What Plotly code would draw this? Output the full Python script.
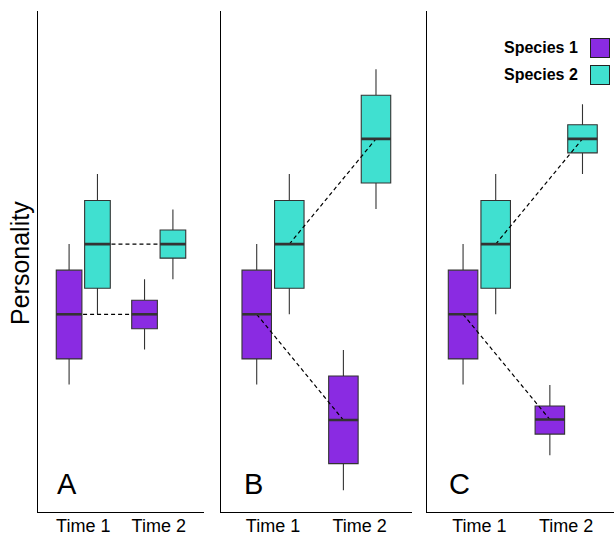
import plotly.graph_objects as go

W, H = 614, 535

# ---------------- data ----------------
panels = ["A", "B", "C"]
times = ["Time 1", "Time 2"]
species = ["Species 1", "Species 2"]

# per panel: [Time 1, Time 2]
sp1_lower = [[25.5, 32.5], [25.5, 4.4], [25.5, 11.4]]
sp1_q1 = [[30.6, 36.6], [30.6, 9.7], [30.6, 15.6]]
sp1_median = [[39.5, 39.5], [39.5, 18.4], [39.5, 18.5]]
sp1_q3 = [[48.3, 42.3], [48.3, 27.2], [48.3, 21.2]]
sp1_upper = [[53.5, 46.5], [53.5, 32.4], [53.5, 25.4]]

sp2_lower = [[39.5, 46.5], [39.5, 60.5], [39.5, 67.5]]
sp2_q1 = [[44.7, 50.7], [44.7, 65.7], [44.7, 71.7]]
sp2_median = [[53.5, 53.5], [53.5, 74.5], [53.5, 74.5]]
sp2_q3 = [[62.2, 56.3], [62.2, 83.2], [62.2, 77.3]]
sp2_upper = [[67.5, 60.4], [67.5, 88.4], [67.5, 81.4]]

# ---------------- style ----------------
colors = ["#8A2BE2", "#40E0D0"]
outline = "#333333"
offset = 0.188   # dodge of each species from the time position
bw = 0.34        # box width in data units
font = "Liberation Sans, Arial, Helvetica, sans-serif"

# panel horizontal extents in px
dom_px = [(38, 204), (221, 411.7), (427.3, 614)]
x_ranges = [[-0.6, 1.6], [-0.6, 1.6], [-0.6, 1.551]]
y_dom = [(H - 512.3) / H, (H - 11) / H]

stats = [
    (sp1_lower, sp1_q1, sp1_median, sp1_q3, sp1_upper),
    (sp2_lower, sp2_q1, sp2_median, sp2_q3, sp2_upper),
]

fig = go.Figure()

for p in range(len(panels)):
    xa = "x" if p == 0 else f"x{p + 1}"
    ya = "y" if p == 0 else f"y{p + 1}"
    for s in range(len(species)):
        lo, q1, md, q3, up = stats[s]
        pos = [t + (2 * s - 1) * offset for t in range(len(times))]
        fig.add_trace(go.Box(
            x=pos, q1=q1[p], median=md[p], q3=q3[p],
            lowerfence=lo[p], upperfence=up[p],
            width=bw, whiskerwidth=0, boxpoints=False,
            fillcolor=colors[s], line=dict(color=outline, width=1.1),
            xaxis=xa, yaxis=ya, showlegend=False, name=species[s],
            hoverinfo="skip",
        ))
    # dashed connectors between medians
    for s in range(len(species)):
        md = stats[s][2]
        pos = [t + (2 * s - 1) * offset for t in range(len(times))]
        fig.add_trace(go.Scatter(
            x=pos, y=md[p], mode="lines",
            line=dict(color="black", width=1.2, dash="4px,3px"),
            xaxis=xa, yaxis=ya, showlegend=False, hoverinfo="skip",
        ))
    # thick median bars
    for s in range(len(species)):
        md = stats[s][2]
        mx, my = [], []
        for t in range(len(times)):
            c = t + (2 * s - 1) * offset
            mx += [c - bw / 2, c + bw / 2, None]
            my += [md[p][t], md[p][t], None]
        fig.add_trace(go.Scatter(
            x=mx, y=my, mode="lines",
            line=dict(color=outline, width=2.6),
            xaxis=xa, yaxis=ya, showlegend=False, hoverinfo="skip",
        ))

layout = dict(
    width=W, height=H,
    margin=dict(l=0, r=0, t=0, b=0, pad=0, autoexpand=False),
    paper_bgcolor="white", plot_bgcolor="white",
    font=dict(family=font, color="black"),
)
for p in range(len(panels)):
    xk = "xaxis" if p == 0 else f"xaxis{p + 1}"
    yk = "yaxis" if p == 0 else f"yaxis{p + 1}"
    xa = "x" if p == 0 else f"x{p + 1}"
    ya = "y" if p == 0 else f"y{p + 1}"
    layout[xk] = dict(
        domain=[dom_px[p][0] / W, dom_px[p][1] / W], range=x_ranges[p],
        tickvals=list(range(len(times))), ticktext=times,
        showline=True, linecolor="black", linewidth=1.3,
        showgrid=False, zeroline=False, ticks="",
        tickfont=dict(size=18, color="black", family=font),
        ticklabelstandoff=-3,
        anchor=ya, fixedrange=True, automargin=False,
    )
    layout[yk] = dict(
        domain=y_dom, range=[0, 100],
        showticklabels=False, ticks="",
        showline=True, linecolor="black", linewidth=1.3,
        showgrid=False, zeroline=False, anchor=xa, fixedrange=True,
        automargin=False,
    )
fig.update_layout(**layout)

letter_x = [55, 241.5, 446.5]
for p, lab in enumerate(panels):
    fig.add_annotation(
        text=lab, x=letter_x[p] / W, y=(H - 484) / H, xref="paper", yref="paper",
        xanchor="left", yanchor="middle", showarrow=False,
        font=dict(size=29, color="black", family=font),
    )

fig.add_annotation(
    text="Personality", x=20 / W, y=(H - 263) / H, xref="paper", yref="paper",
    xanchor="center", yanchor="middle", textangle=-90, showarrow=False,
    font=dict(size=25, color="black", family=font),
)

leg_y = [48, 74.5]
for s, name in enumerate(species):
    fig.add_annotation(
        text=name, x=580 / W, y=(H - leg_y[s]) / H, xref="paper", yref="paper",
        xanchor="right", yanchor="middle", showarrow=False,
        font=dict(size=16, color="black", family=font, weight="bold"),
    )
    fig.add_annotation(
        text=" ", x=600 / W, y=(H - leg_y[s]) / H, xref="paper", yref="paper",
        xanchor="center", yanchor="middle", showarrow=False,
        width=18, height=18, bgcolor=colors[s], bordercolor="#222222",
        borderwidth=1, borderpad=0,
    )

fig.write_html(
    "out.html",
    config={"displayModeBar": False},
    post_script="document.body.style.margin='0px';document.body.style.overflow='hidden';",
)
